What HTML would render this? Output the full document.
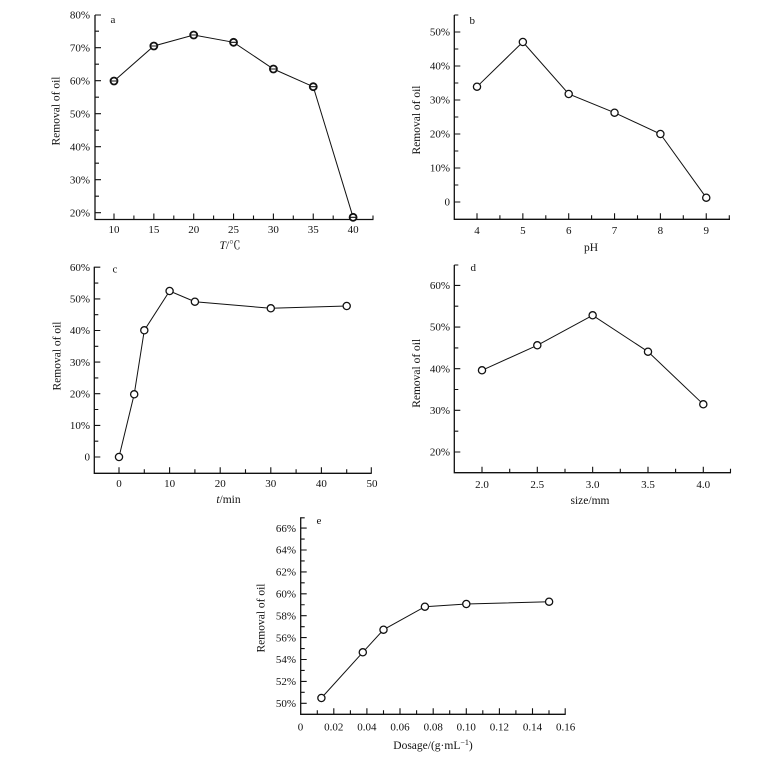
<!DOCTYPE html>
<html><head><meta charset="utf-8"><style>
html,body{margin:0;padding:0;background:#fff;}
svg{display:block;}
text{font-family:"Liberation Serif","Noto Serif CJK SC",serif;fill:#111;}
.t{font-size:11px;}
.yl{font-size:11.5px;text-anchor:middle;}
.r{text-anchor:end;}
.m{text-anchor:middle;}
.ax{stroke:#111;stroke-width:1.3;fill:none;}
.tk{stroke:#111;stroke-width:1.1;}
.ln{stroke:#111;stroke-width:1;fill:none;}
.c{fill:#fff;stroke:#111;stroke-width:1.3;}
.ca{fill:#fff;stroke:#111;stroke-width:1.8;}
</style></head><body>
<svg width="774" height="760" viewBox="0 0 774 760" xmlns="http://www.w3.org/2000/svg">

<!-- Panel a -->
<g>
<path class="ax" d="M95,15 V219.5 H373.5"/>
<g class="tk">
<path d="M95,212.7h6M95,179.7h6M95,146.7h6M95,113.7h6M95,80.7h6M95,47.7h6M95,15h6"/>
<path d="M95,196.2h4M95,163.2h4M95,130.2h4M95,97.2h4M95,64.2h4M95,31.2h4"/>
<path d="M114,219.5v-6M153.85,219.5v-6M193.7,219.5v-6M233.55,219.5v-6M273.4,219.5v-6M313.25,219.5v-6M353.1,219.5v-6"/>
<path d="M133.9,219.5v-4M173.8,219.5v-4M213.6,219.5v-4M253.5,219.5v-4M293.3,219.5v-4M333.2,219.5v-4M373,219.5v-4"/>
</g>
<g class="t r">
<text x="90" y="216.4">20%</text><text x="90" y="183.4">30%</text><text x="90" y="150.4">40%</text><text x="90" y="117.4">50%</text><text x="90" y="84.4">60%</text><text x="90" y="51.4">70%</text><text x="90" y="18.4">80%</text>
</g>
<g class="t m">
<text x="114" y="233">10</text><text x="153.85" y="233">15</text><text x="193.7" y="233">20</text><text x="233.55" y="233">25</text><text x="273.4" y="233">30</text><text x="313.25" y="233">35</text><text x="353.1" y="233">40</text>
</g>
<text class="t" x="110.5" y="23">a</text>
<text class="yl" transform="translate(59.7,111) rotate(-90)">Removal of oil</text>
<text class="yl" x="230" y="249"><tspan font-style="italic">T</tspan>/℃</text>
<polyline class="ln" points="114,81 153.85,46 193.7,35 233.55,42.3 273.4,69 313.25,86.7 353.1,217.3"/>
<g>
<circle class="ca" cx="114" cy="81" r="3.5"/><circle class="ca" cx="153.85" cy="46" r="3.5"/><circle class="ca" cx="193.7" cy="35" r="3.5"/><circle class="ca" cx="233.55" cy="42.3" r="3.5"/><circle class="ca" cx="273.4" cy="69" r="3.5"/><circle class="ca" cx="313.25" cy="86.7" r="3.5"/><circle class="ca" cx="353.1" cy="217.3" r="3.5"/>
<path class="tk" d="M111,81h6M150.85,46h6M190.7,35h6M230.55,42.3h6M270.4,69h6M310.25,86.7h6M350.1,217.3h6"/>
</g>
</g>

<!-- Panel b -->
<g>
<path class="ax" d="M454.3,15 V219.3 H730"/>
<g class="tk">
<path d="M454.3,202h6M454.3,168h6M454.3,134h6M454.3,100h6M454.3,66h6M454.3,32h6"/>
<path d="M454.3,185h4M454.3,151h4M454.3,117h4M454.3,83h4M454.3,49h4M454.3,15h4"/>
<path d="M477,219.3v-6M522.85,219.3v-6M568.7,219.3v-6M614.55,219.3v-6M660.4,219.3v-6M706.25,219.3v-6"/>
<path d="M499.9,219.3v-4M545.8,219.3v-4M591.6,219.3v-4M637.5,219.3v-4M683.3,219.3v-4M729.3,219.3v-4"/>
</g>
<g class="t r">
<text x="450" y="205.7">0</text><text x="450" y="171.7">10%</text><text x="450" y="137.7">20%</text><text x="450" y="103.7">30%</text><text x="450" y="69.7">40%</text><text x="450" y="35.7">50%</text>
</g>
<g class="t m">
<text x="477" y="234">4</text><text x="522.85" y="234">5</text><text x="568.7" y="234">6</text><text x="614.55" y="234">7</text><text x="660.4" y="234">8</text><text x="706.25" y="234">9</text>
</g>
<text class="t" x="469.5" y="24">b</text>
<text class="yl" transform="translate(420,120) rotate(-90)">Removal of oil</text>
<text class="yl" x="591" y="251">pH</text>
<polyline class="ln" points="477,86.7 522.85,42 568.7,94 614.55,112.7 660.4,134 706.25,197.7"/>
<circle class="c" cx="477" cy="86.7" r="3.6"/><circle class="c" cx="522.85" cy="42" r="3.6"/><circle class="c" cx="568.7" cy="94" r="3.6"/><circle class="c" cx="614.55" cy="112.7" r="3.6"/><circle class="c" cx="660.4" cy="134" r="3.6"/><circle class="c" cx="706.25" cy="197.7" r="3.6"/>
</g>

<!-- Panel c -->
<g>
<path class="ax" d="M94.3,266.7 V473.3 H371.7"/>
<g class="tk">
<path d="M94.3,457h6M94.3,425.4h6M94.3,393.7h6M94.3,362.1h6M94.3,330.5h6M94.3,298.9h6M94.3,267.2h6"/>
<path d="M94.3,441.2h4M94.3,409.5h4M94.3,377.9h4M94.3,346.3h4M94.3,314.7h4M94.3,283.1h4"/>
<path d="M119,473.3v-6M169.6,473.3v-6M220.2,473.3v-6M270.8,473.3v-6M321.4,473.3v-6M371.3,473.3v-6"/>
<path d="M144.3,473.3v-4M194.9,473.3v-4M245.5,473.3v-4M296.1,473.3v-4M346.7,473.3v-4"/>
</g>
<g class="t r">
<text x="90" y="460.7">0</text><text x="90" y="429.1">10%</text><text x="90" y="397.4">20%</text><text x="90" y="365.8">30%</text><text x="90" y="334.2">40%</text><text x="90" y="302.6">50%</text><text x="90" y="270.9">60%</text>
</g>
<g class="t m">
<text x="119" y="487">0</text><text x="169.6" y="487">10</text><text x="220.2" y="487">20</text><text x="270.8" y="487">30</text><text x="321.4" y="487">40</text><text x="372" y="487">50</text>
</g>
<text class="t" x="112.5" y="272.5">c</text>
<text class="yl" transform="translate(60.5,356) rotate(-90)">Removal of oil</text>
<text class="yl" x="228.5" y="503"><tspan font-style="italic">t</tspan>/min</text>
<polyline class="ln" points="119,457 134.2,394.3 144.3,330.3 169.6,291 194.9,301.7 270.8,308.3 346.7,306"/>
<circle class="c" cx="119" cy="457" r="3.6"/><circle class="c" cx="134.2" cy="394.3" r="3.6"/><circle class="c" cx="144.3" cy="330.3" r="3.6"/><circle class="c" cx="169.6" cy="291" r="3.6"/><circle class="c" cx="194.9" cy="301.7" r="3.6"/><circle class="c" cx="270.8" cy="308.3" r="3.6"/><circle class="c" cx="346.7" cy="306" r="3.6"/>
</g>

<!-- Panel d -->
<g>
<path class="ax" d="M454.3,265 V472.7 H731"/>
<g class="tk">
<path d="M454.3,452h6M454.3,410.35h6M454.3,368.7h6M454.3,327.05h6M454.3,285.4h6"/>
<path d="M454.3,431.2h4M454.3,389.5h4M454.3,347.9h4M454.3,306.2h4M454.3,265h4"/>
<path d="M482,472.7v-6M537.3,472.7v-6M592.65,472.7v-6M648,472.7v-6M703.3,472.7v-6"/>
<path d="M509.7,472.7v-4M565,472.7v-4M620.3,472.7v-4M675.6,472.7v-4M730.5,472.7v-4"/>
</g>
<g class="t r">
<text x="450" y="455.7">20%</text><text x="450" y="414">30%</text><text x="450" y="372.4">40%</text><text x="450" y="330.7">50%</text><text x="450" y="289.1">60%</text>
</g>
<g class="t m">
<text x="482" y="488">2.0</text><text x="537.3" y="488">2.5</text><text x="592.65" y="488">3.0</text><text x="648" y="488">3.5</text><text x="703.3" y="488">4.0</text>
</g>
<text class="t" x="470.5" y="271">d</text>
<text class="yl" transform="translate(420,373.3) rotate(-90)">Removal of oil</text>
<text class="yl" x="590" y="504">size/mm</text>
<polyline class="ln" points="482,370.3 537.3,345.3 592.65,315.3 648,351.7 703.3,404.3"/>
<circle class="c" cx="482" cy="370.3" r="3.6"/><circle class="c" cx="537.3" cy="345.3" r="3.6"/><circle class="c" cx="592.65" cy="315.3" r="3.6"/><circle class="c" cx="648" cy="351.7" r="3.6"/><circle class="c" cx="703.3" cy="404.3" r="3.6"/>
</g>

<!-- Panel e -->
<g>
<path class="ax" d="M300.7,517.3 V714.3 H565.7"/>
<g class="tk">
<path d="M300.7,703.3h6M300.7,681.4h6M300.7,659.5h6M300.7,637.6h6M300.7,615.7h6M300.7,593.8h6M300.7,571.9h6M300.7,550h6M300.7,528.1h6"/>
<path d="M300.7,692.35h4M300.7,670.45h4M300.7,648.55h4M300.7,626.65h4M300.7,604.75h4M300.7,582.85h4M300.7,560.95h4M300.7,539.05h4M300.7,517.8h4"/>
<path d="M333.8,714.3v-6M366.9,714.3v-6M400,714.3v-6M433.2,714.3v-6M466.3,714.3v-6M499.4,714.3v-6M532.5,714.3v-6M565.2,714.3v-6"/>
<path d="M317.3,714.3v-4M350.4,714.3v-4M383.5,714.3v-4M416.6,714.3v-4M449.7,714.3v-4M482.8,714.3v-4M515.9,714.3v-4M549,714.3v-4"/>
</g>
<g class="t r">
<text x="296" y="707">50%</text><text x="296" y="685.1">52%</text><text x="296" y="663.2">54%</text><text x="296" y="641.3">56%</text><text x="296" y="619.4">58%</text><text x="296" y="597.5">60%</text><text x="296" y="575.6">62%</text><text x="296" y="553.7">64%</text><text x="296" y="531.8">66%</text>
</g>
<g class="t m">
<text x="300.5" y="730.5">0</text><text x="333.8" y="730.5">0.02</text><text x="366.9" y="730.5">0.04</text><text x="400" y="730.5">0.06</text><text x="433.2" y="730.5">0.08</text><text x="466.3" y="730.5">0.10</text><text x="499.4" y="730.5">0.12</text><text x="532.5" y="730.5">0.14</text><text x="565.6" y="730.5">0.16</text>
</g>
<text class="t" x="316.5" y="524">e</text>
<text class="yl" transform="translate(264.7,618) rotate(-90)">Removal of oil</text>
<text class="yl" x="433" y="749">Dosage/(g·mL<tspan font-size="8" dy="-4">−1</tspan><tspan dy="4">)</tspan></text>
<polyline class="ln" points="321.4,698 362.8,652.3 383.5,629.7 424.9,606.7 466.3,604 549.1,601.7"/>
<circle class="c" cx="321.4" cy="698" r="3.6"/><circle class="c" cx="362.8" cy="652.3" r="3.6"/><circle class="c" cx="383.5" cy="629.7" r="3.6"/><circle class="c" cx="424.9" cy="606.7" r="3.6"/><circle class="c" cx="466.3" cy="604" r="3.6"/><circle class="c" cx="549.1" cy="601.7" r="3.6"/>
</g>

</svg>
</body></html>
